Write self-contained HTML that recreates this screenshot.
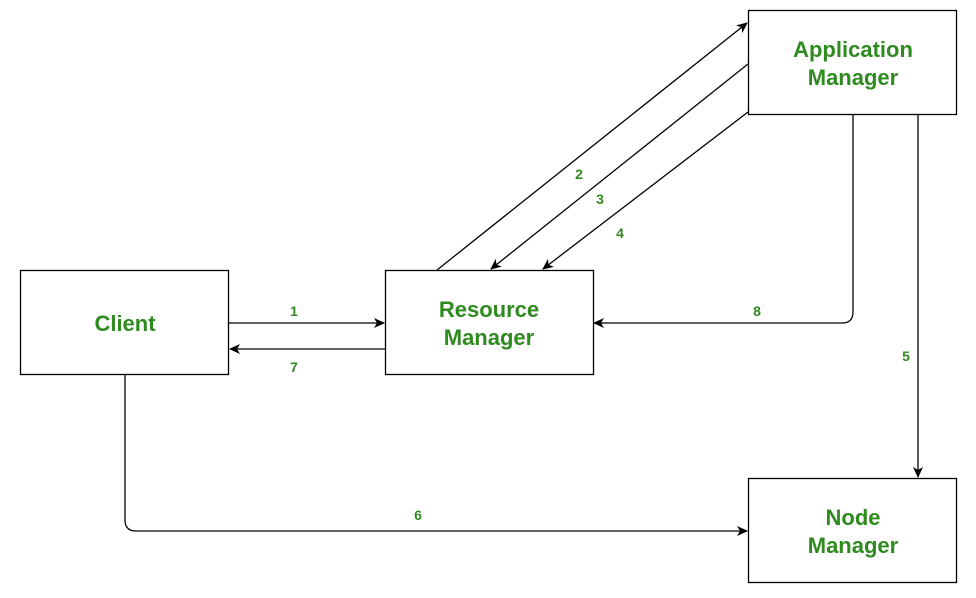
<!DOCTYPE html>
<html><head><meta charset="utf-8"><style>
html,body{margin:0;padding:0;background:#fff;width:976px;height:598px;overflow:hidden}
svg{display:block}
text{font-family:"Liberation Sans",Arial,sans-serif;font-weight:bold;fill:#2f8a1f}
.b{font-size:22px}
.l{font-size:14px}
</style></head><body>
<svg width="976" height="598" viewBox="0 0 976 598" xmlns="http://www.w3.org/2000/svg">
<defs><marker id="a" markerWidth="12" markerHeight="10" refX="10" refY="5" orient="auto" markerUnits="userSpaceOnUse"><path d="M0,0 L11,5 L0,10 L3,5 Z" fill="#000"/></marker></defs>
<g fill="#fff" stroke="#000" stroke-width="1.3">
<rect x="20.5" y="270.5" width="208" height="104"/>
<rect x="385.5" y="270.5" width="208" height="104"/>
<rect x="748.5" y="10.5" width="208" height="104"/>
<rect x="748.5" y="478.5" width="208" height="104"/>
</g>
<g stroke="#000" stroke-width="1.3" fill="none">
<line x1="229" y1="323" x2="384" y2="323" marker-end="url(#a)"/>
<line x1="385" y1="349" x2="230" y2="349" marker-end="url(#a)"/>
<line x1="437" y1="270" x2="747" y2="23" marker-end="url(#a)"/>
<line x1="748" y1="64" x2="491" y2="269" marker-end="url(#a)"/>
<line x1="748" y1="112" x2="543" y2="269" marker-end="url(#a)"/>
<path d="M853,115 V312 Q853,323 842,323 H594" marker-end="url(#a)"/>
<line x1="918" y1="115" x2="918" y2="477" marker-end="url(#a)"/>
<path d="M125,375 V520 Q125,531 136,531 H747" marker-end="url(#a)"/>
</g>
<text class="b" x="125" y="331" text-anchor="middle">Client</text>
<text class="b" x="489" y="317" text-anchor="middle">Resource</text>
<text class="b" x="489" y="345" text-anchor="middle">Manager</text>
<text class="b" x="853" y="57" text-anchor="middle">Application</text>
<text class="b" x="853" y="85" text-anchor="middle">Manager</text>
<text class="b" x="853" y="525" text-anchor="middle">Node</text>
<text class="b" x="853" y="553" text-anchor="middle">Manager</text>
<text class="l" x="294" y="316" text-anchor="middle">1</text>
<text class="l" x="294" y="372" text-anchor="middle">7</text>
<text class="l" x="579" y="179" text-anchor="middle">2</text>
<text class="l" x="600" y="204" text-anchor="middle">3</text>
<text class="l" x="620" y="238" text-anchor="middle">4</text>
<text class="l" x="757" y="316" text-anchor="middle">8</text>
<text class="l" x="906" y="361" text-anchor="middle">5</text>
<text class="l" x="418" y="520" text-anchor="middle">6</text>
</svg>
</body></html>
